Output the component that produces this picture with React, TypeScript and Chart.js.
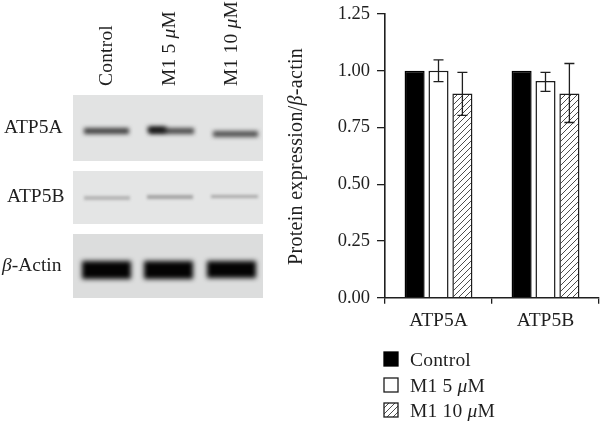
import React, { useEffect, useRef } from "react";
import { Chart, registerables } from "chart.js";

Chart.register(...registerables);

const categories = ["ATP5A", "ATP5B"];
const seriesNames = ["Control", "M1 5 μM", "M1 10 μM"];
const controlValues = [1.0, 1.0];
const m1Low = [1.0, 0.955];
const m1High = [0.9, 0.9];
const m1LowErrTop = [1.048, 0.993];
const m1LowErrBottom = [0.952, 0.909];
const m1HighErrTop = [0.993, 1.032];
const m1HighErrBottom = [0.803, 0.772];
const yTicks = [0, 0.25, 0.5, 0.75, 1.0, 1.25];

const SERIF = '"Liberation Serif", serif';
const INK = "#1f1f1f";

type Seg = { t: string; i?: boolean };

function splitGreek(text: string): Seg[] {
  const out: Seg[] = [];
  for (const part of text.split(/([μβ])/)) {
    if (!part) continue;
    out.push({ t: part, i: part === "μ" || part === "β" });
  }
  return out;
}

function drawText(
  ctx: CanvasRenderingContext2D,
  text: string,
  x: number,
  y: number,
  size: number,
  spacing: number,
  rotate = false,
) {
  ctx.save();
  ctx.translate(x, y);
  if (rotate) ctx.rotate(-Math.PI / 2);
  ctx.fillStyle = INK;
  ctx.textAlign = "left";
  ctx.textBaseline = "alphabetic";
  (ctx as any).letterSpacing = `${spacing}px`;
  let cx = 0;
  for (const s of splitGreek(text)) {
    ctx.font = `${s.i ? "italic " : ""}${size}px ${SERIF}`;
    ctx.fillText(s.t, cx, 0);
    cx += ctx.measureText(s.t).width;
  }
  ctx.restore();
}

const blotPanels = [
  { x: 73, y: 95, w: 190, h: 66, color: "#e2e3e3" },
  { x: 73, y: 171, w: 190, h: 53, color: "#e4e5e5" },
  { x: 73, y: 234, w: 190, h: 64, color: "#dcdddd" },
];
const blotBands = [
  { x: 84, y: 128, w: 45, h: 6, color: "#404040", blur: 2 },
  { x: 149, y: 128, w: 45, h: 6, color: "#4a4a4a", blur: 2 },
  { x: 148, y: 127, w: 18, h: 5, color: "#000000", blur: 2.4 },
  { x: 213, y: 131, w: 45, h: 6, color: "#505050", blur: 2 },
  { x: 84, y: 196, w: 46, h: 4, color: "#b4b4b4", blur: 1.8 },
  { x: 147, y: 195, w: 46, h: 4, color: "#a4a4a4", blur: 1.8 },
  { x: 211, y: 195, w: 47, h: 3, color: "#a8a8a8", blur: 1.6 },
  { x: 82, y: 261, w: 49, h: 18, color: "#030303", blur: 2.6 },
  { x: 144, y: 261, w: 49, h: 18, color: "#030303", blur: 2.6 },
  { x: 207, y: 261, w: 49, h: 17, color: "#030303", blur: 2.6 },
];
const blotColumnLabels = [
  { t: "Control", x: 112, y: 86 },
  { t: "M1 5 μM", x: 175, y: 86 },
  { t: "M1 10 μM", x: 237, y: 86 },
];
const blotRowLabels = [
  { t: "ATP5A", x: 4, y: 133 },
  { t: "ATP5B", x: 7, y: 202 },
  { t: "β-Actin", x: 2, y: 271 },
];
const legendRows = [
  { y: 352, base: 366 },
  { y: 378, base: 392 },
  { y: 403, base: 417 },
];

const blotPlugin = {
  id: "blots",
  beforeDraw(chart: any) {
    const ctx: CanvasRenderingContext2D = chart.ctx;
    ctx.save();
    ctx.fillStyle = "#ffffff";
    ctx.fillRect(0, 0, chart.width, chart.height);
    for (const p of blotPanels) {
      ctx.fillStyle = p.color;
      ctx.fillRect(p.x, p.y, p.w, p.h);
    }
    for (const b of blotBands) {
      ctx.filter = `blur(${b.blur}px)`;
      ctx.fillStyle = b.color;
      ctx.fillRect(b.x, b.y, b.w, b.h);
    }
    ctx.filter = "none";
    ctx.restore();
    for (const l of blotColumnLabels) drawText(ctx, l.t, l.x, l.y, 19.5, 0.2, true);
    for (const l of blotRowLabels) drawText(ctx, l.t, l.x, l.y, 19.5, 0);
    drawText(ctx, "Protein expression/β-actin", 302, 265, 20, 0.3, true);
  },
};

const errorPlugin = {
  id: "errors",
  afterDatasetsDraw(chart: any) {
    const ctx: CanvasRenderingContext2D = chart.ctx;
    const y = chart.scales.y;
    ctx.save();
    ctx.strokeStyle = INK;
    ctx.lineWidth = 1.3;
    chart.data.datasets.forEach((ds: any, di: number) => {
      if (!ds.errTop) return;
      chart.getDatasetMeta(di).data.forEach((bar: any, i: number) => {
        const top = y.getPixelForValue(ds.errTop[i]);
        const bot = y.getPixelForValue(ds.errBottom[i]);
        ctx.beginPath();
        ctx.moveTo(bar.x, top);
        ctx.lineTo(bar.x, bot);
        ctx.moveTo(bar.x - 5, top);
        ctx.lineTo(bar.x + 5, top);
        ctx.moveTo(bar.x - 5, bot);
        ctx.lineTo(bar.x + 5, bot);
        ctx.stroke();
      });
    });
    ctx.restore();
  },
  afterDraw(chart: any) {
    const ctx: CanvasRenderingContext2D = chart.ctx;
    chart.data.datasets.forEach((ds: any, di: number) => {
      const row = legendRows[di];
      ctx.save();
      ctx.fillStyle = ds.backgroundColor;
      ctx.fillRect(384, row.y, 14, 14);
      ctx.strokeStyle = ds.borderColor;
      ctx.lineWidth = 1.3;
      ctx.strokeRect(384, row.y, 14, 14);
      ctx.restore();
      drawText(ctx, ds.label, 410, row.base, 19.5, 0.2);
    });
  },
};

function makeHatch(): CanvasPattern {
  const c = document.createElement("canvas");
  c.width = 6;
  c.height = 6;
  const g = c.getContext("2d")!;
  g.fillStyle = "#ffffff";
  g.fillRect(0, 0, 6, 6);
  g.strokeStyle = "#3a3a3a";
  g.lineWidth = 0.9;
  g.beginPath();
  g.moveTo(-1, 7);
  g.lineTo(7, -1);
  g.moveTo(-1, 1);
  g.lineTo(1, -1);
  g.moveTo(5, 7);
  g.lineTo(7, 5);
  g.stroke();
  return g.createPattern(c, "repeat")!;
}

export default function App() {
  const ref = useRef<HTMLCanvasElement>(null);
  useEffect(() => {
    document.body.style.margin = "0";
    const common = {
      borderColor: "#1c1c1c",
      borderWidth: 1.5,
      categoryPercentage: 0.67,
      barPercentage: 0.84,
    };
    const chart = new Chart(ref.current!, {
      type: "bar",
      data: {
        labels: categories,
        datasets: [
          { ...common, label: seriesNames[0], data: controlValues, backgroundColor: "#000000", borderColor: "#000000" },
          { ...common, label: seriesNames[1], data: m1Low, backgroundColor: "#ffffff", errTop: m1LowErrTop, errBottom: m1LowErrBottom },
          { ...common, label: seriesNames[2], data: m1High, backgroundColor: makeHatch(), errTop: m1HighErrTop, errBottom: m1HighErrBottom },
        ] as any,
      },
      plugins: [blotPlugin, errorPlugin],
      options: {
        responsive: false,
        animation: false,
        layout: { padding: { left: 0, right: 1, top: 14, bottom: 0 } },
        plugins: { legend: { display: false }, tooltip: { enabled: false } },
        scales: {
          x: {
            grid: { offset: true, drawOnChartArea: false, color: INK, tickLength: 6, lineWidth: 1.3 },
            border: { color: INK, width: 1.6 },
            ticks: { color: INK, font: { family: SERIF, size: 19.5 }, padding: 5, maxRotation: 0 },
            afterFit: (s: any) => { s.height = 126.3; s.paddingLeft = 0; s.paddingRight = 0; },
          },
          y: {
            min: 0,
            max: 1.25,
            afterBuildTicks: (s: any) => { s.ticks = yTicks.map((value) => ({ value })); },
            grid: { drawOnChartArea: false, color: INK, tickLength: 8, lineWidth: 1.3 },
            border: { color: INK, width: 1.6 },
            ticks: {
              color: INK,
              font: { family: SERIF, size: 18.5 },
              padding: 7,
              callback: (v: any) => Number(v).toFixed(2),
            },
            afterFit: (s: any) => { s.width = 385; s.paddingTop = 0; s.paddingBottom = 0; },
          },
        },
      } as any,
    });
    return () => chart.destroy();
  }, []);
  return (
    <div style={{ position: "absolute", left: 0, top: 0, width: 600, height: 424 }}>
      <canvas ref={ref} width={600} height={424} style={{ display: "block" }} />
    </div>
  );
}
